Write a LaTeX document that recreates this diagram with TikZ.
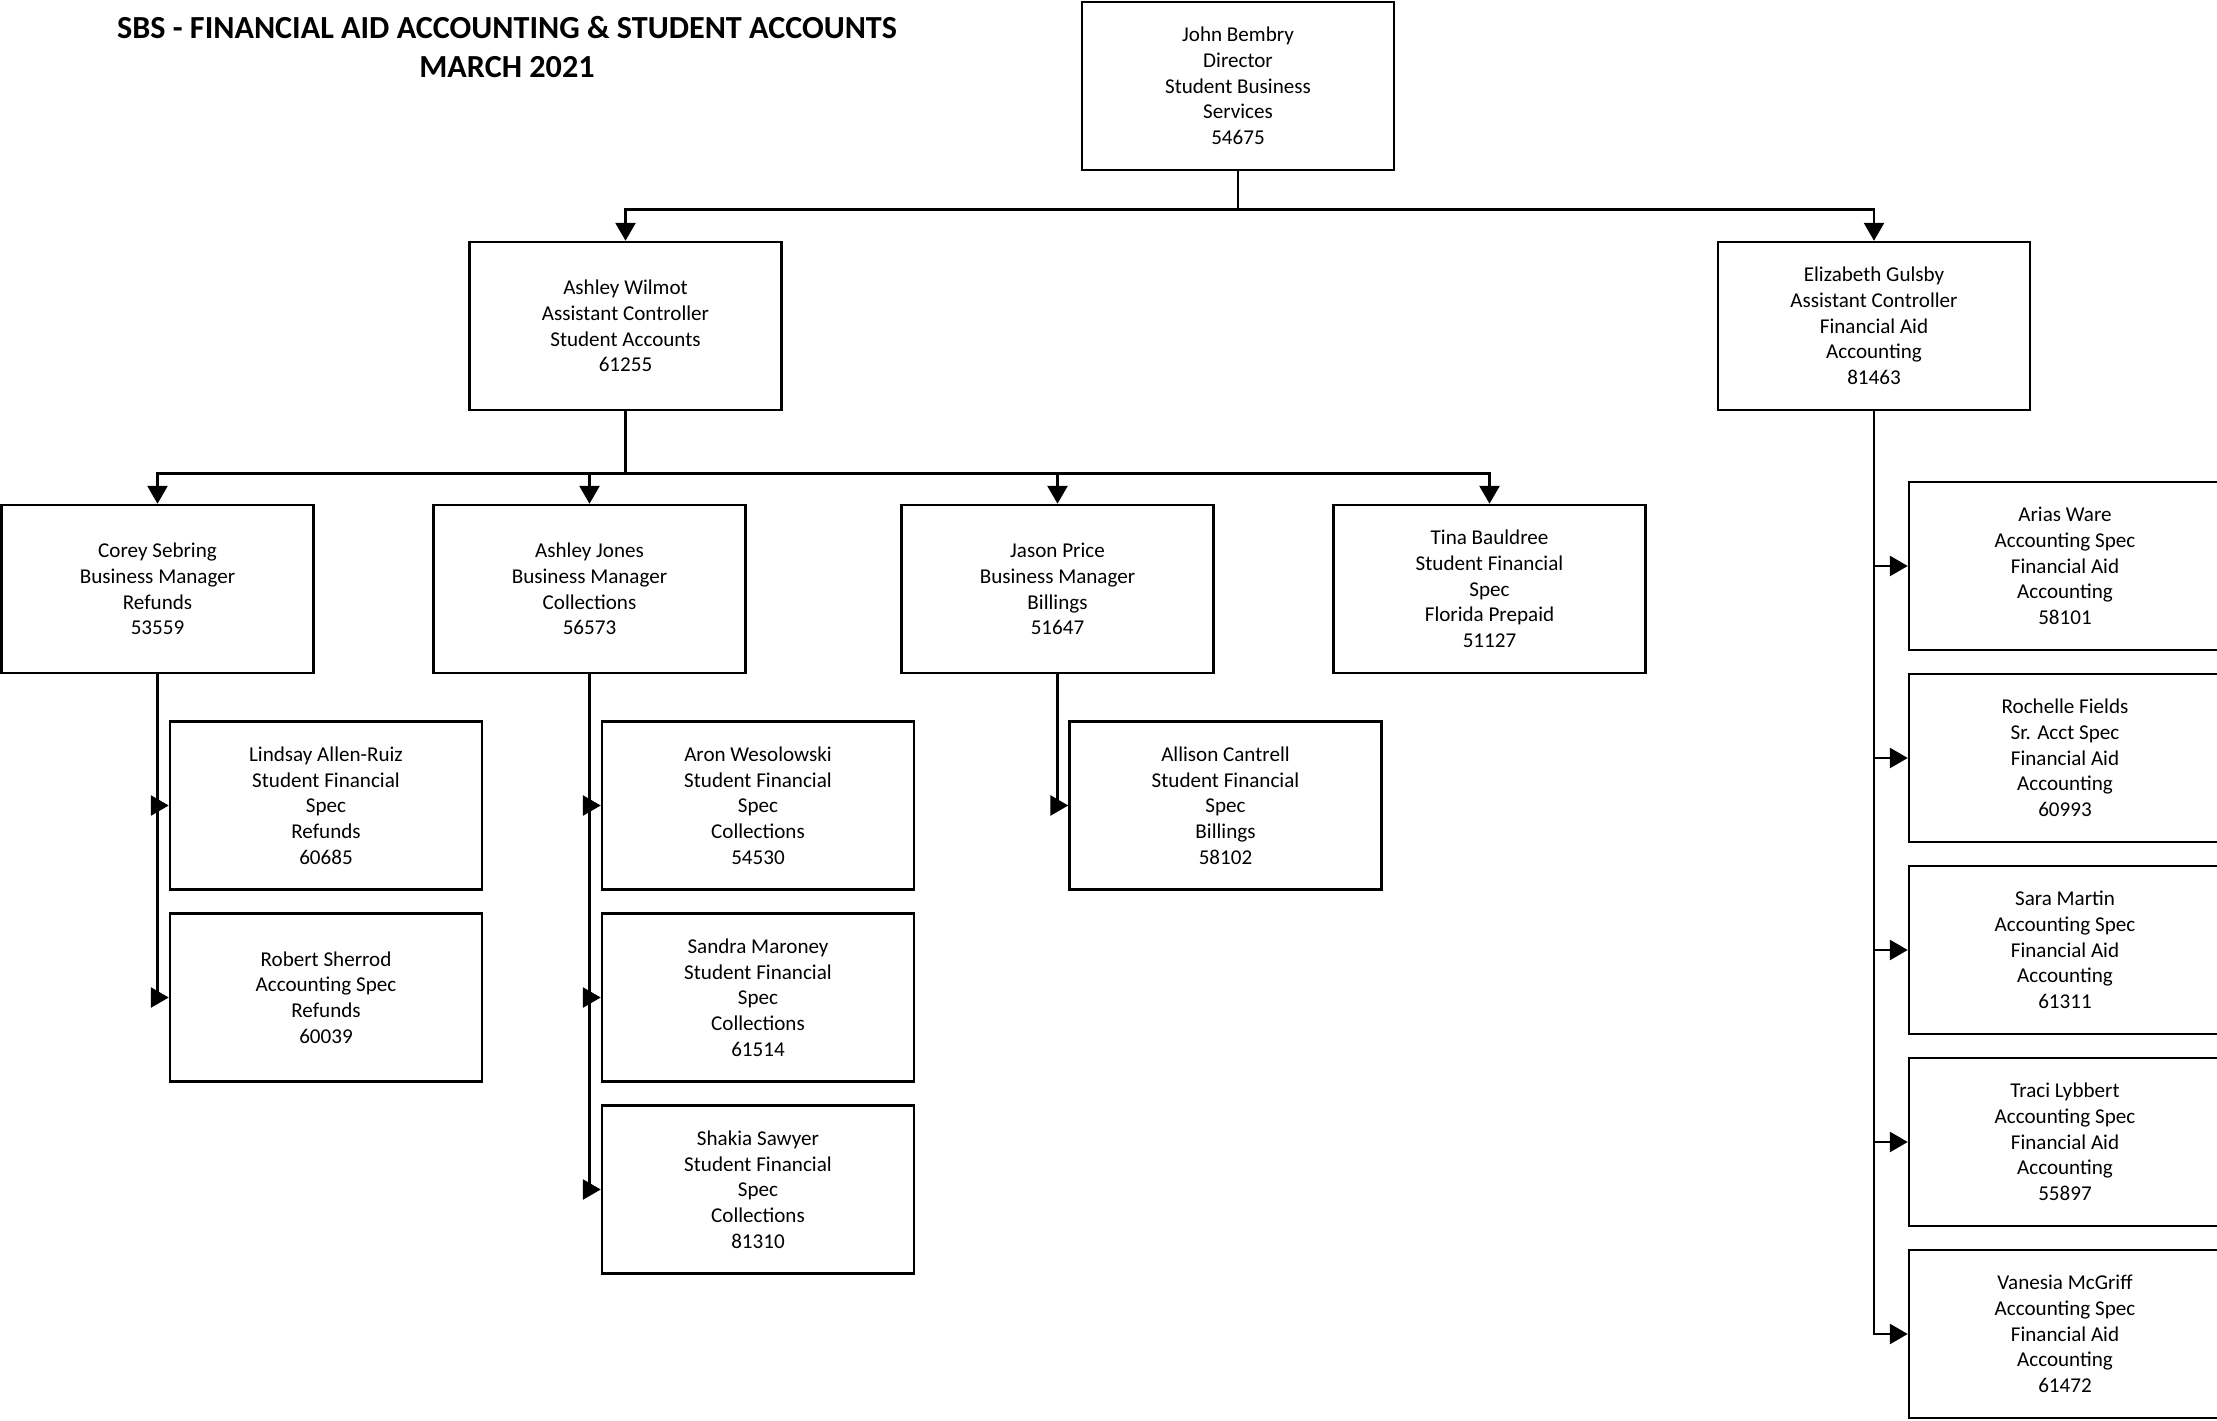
\documentclass[tikz,border=0pt]{standalone}
\usepackage{fontspec}
\setmainfont{Carlito}
\usetikzlibrary{arrows.meta}

\begin{document}
\begin{tikzpicture}[
  box/.style={draw,line width=0.7pt,minimum width=3.12cm,minimum height=1.68cm,inner sep=0pt,align=center,font=\fontsize{6}{7.3}\selectfont},
  link/.style={line width=0.8pt,-{Triangle[length=1.8mm,width=2mm]}}]
\useasboundingbox (0,0) rectangle (22.17,-14.21);
\node[font=\bfseries\fontsize{9.15}{11}\selectfont,align=center] (title) at (5.07,-0.47) {SBS - FINANCIAL AID ACCOUNTING \& STUDENT ACCOUNTS\\MARCH 2021};

\node[box] (bembry) at (12.38,-0.86) {John Bembry\\Director\\Student Business\\Services\\54675};
\node[box] (wilmot) at (6.255,-3.26) {Ashley Wilmot\\Assistant Controller\\Student Accounts\\61255};
\node[box] (gulsby) at (18.74,-3.26) {Elizabeth Gulsby\\Assistant Controller\\Financial Aid\\Accounting\\81463};

\node[box] (sebring) at (1.575,-5.89) {Corey Sebring\\Business Manager\\Refunds\\53559};
\node[box] (jones) at (5.895,-5.89) {Ashley Jones\\Business Manager\\Collections\\56573};
\node[box] (price) at (10.575,-5.89) {Jason Price\\Business Manager\\Billings\\51647};
\node[box] (bauldree) at (14.895,-5.89) {Tina Bauldree\\Student Financial\\Spec\\Florida Prepaid\\51127};

\node[box] (allenruiz) at (3.26,-8.055) {Lindsay Allen-Ruiz\\Student Financial\\Spec\\Refunds\\60685};
\node[box] (sherrod) at (3.26,-9.975) {Robert Sherrod\\Accounting Spec\\Refunds\\60039};
\node[box] (wesolowski) at (7.58,-8.055) {Aron Wesolowski\\Student Financial\\Spec\\Collections\\54530};
\node[box] (maroney) at (7.58,-9.975) {Sandra Maroney\\Student Financial\\Spec\\Collections\\61514};
\node[box] (sawyer) at (7.58,-11.895) {Shakia Sawyer\\Student Financial\\Spec\\Collections\\81310};
\node[box] (cantrell) at (12.255,-8.055) {Allison Cantrell\\Student Financial\\Spec\\Billings\\58102};

\node[box] (ware) at (20.65,-5.66) {Arias Ware\\Accounting Spec\\Financial Aid\\Accounting\\58101};
\node[box] (fields) at (20.65,-7.58) {Rochelle Fields\\Sr. Acct Spec\\Financial Aid\\Accounting\\60993};
\node[box] (martin) at (20.65,-9.50) {Sara Martin\\Accounting Spec\\Financial Aid\\Accounting\\61311};
\node[box] (lybbert) at (20.65,-11.42) {Traci Lybbert\\Accounting Spec\\Financial Aid\\Accounting\\55897};
\node[box] (mcgriff) at (20.65,-13.34) {Vanesia McGriff\\Accounting Spec\\Financial Aid\\Accounting\\61472};

\draw[link] (bembry.south) -- ++(0,-0.38) -| (wilmot.north);
\draw[link] (bembry.south) -- ++(0,-0.38) -| (gulsby.north);

\foreach \kid in {sebring,jones,price,bauldree}
  \draw[link] (wilmot.south) -- ++(0,-0.62) -| (\kid.north);

\foreach \kid in {allenruiz,sherrod}
  \draw[link] (sebring.south) |- (\kid.west);
\foreach \kid in {wesolowski,maroney,sawyer}
  \draw[link] (jones.south) |- (\kid.west);
\draw[link] (price.south) |- (cantrell.west);
\foreach \kid in {ware,fields,martin,lybbert,mcgriff}
  \draw[link] (gulsby.south) |- (\kid.west);
\end{tikzpicture}
\end{document}
